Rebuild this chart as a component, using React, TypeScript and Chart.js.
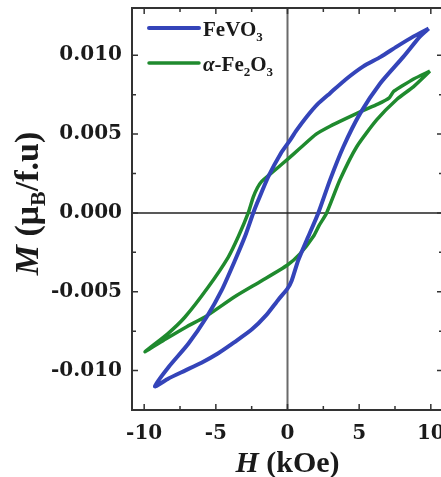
import React, { useEffect, useRef } from "react";
import { Chart, registerables } from "chart.js";

Chart.register(...registerables);

// FeVO3 loop: descending (upper) branch from +H max, then ascending (lower) branch from -H max
const feVO3H = [
  9.85, 8.8, 7.62, 6.5, 5.29, 4.1, 2.97, 2.1, 1.34, 0.6, 0.17, -0.45, -1.34, -2.04, -2.39, -2.97, -3.66, -4.59, -5.64, -6.92, -8.32, -9.25,
  -8.3, -7.15, -6.0, -4.83, -3.7, -2.5, -1.5, -0.64, 0, 0.29, 0.75, 1.45, 2.15, 2.97, 3.9, 5.06, 6.45, 8.08, 9.25, 9.85,
];
const feVO3M = [
  0.0117, 0.0112, 0.01055, 0.0099, 0.0093, 0.0085, 0.0076, 0.0069, 0.0061, 0.0052, 0.0046, 0.0038, 0.0023, 0.0008, 0, -0.0015, -0.003, -0.0049, -0.0066, -0.0083, -0.0098, -0.011,
  -0.0105, -0.0100, -0.0095, -0.0089, -0.0082, -0.0074, -0.0065, -0.0055, -0.0048, -0.0043, -0.003, -0.0015, 0, 0.0021, 0.0042, 0.0063, 0.0082, 0.0099, 0.0112, 0.0117,
];

// alpha-Fe2O3 loop
const fe2O3H = [
  9.94, 8.8, 7.9, 7.4, 7.1, 6.3, 5.29, 4.1, 2.97, 2.0, 0.87, 0, -0.64, -1.3, -1.8, -2.1, -2.39, -2.74, -3.43, -4.13, -5.53, -7.15, -8.4, -9.94,
  -8.5, -7.0, -5.76, -3.66, -1.8, 0, 0.87, 1.8, 2.2, 2.73, 3.66, 4.83, 6.22, 7.62, 8.78, 9.94,
];
const fe2O3M = [
  0.009, 0.0085, 0.008, 0.0077, 0.0073, 0.0069, 0.0065, 0.006, 0.0055, 0.005, 0.0041, 0.0034, 0.0029, 0.0024, 0.002, 0.0016, 0.001, 0, -0.0015, -0.0028, -0.0047, -0.0066, -0.0077, -0.0088,
  -0.008, -0.0072, -0.0066, -0.0053, -0.0043, -0.0033, -0.0026, -0.0015, -0.0008, 0, 0.0021, 0.0042, 0.0059, 0.0072, 0.008, 0.009,
];

const xTicks = [-10, -5, 0, 5, 10];
const xMinorTicks = [-7.5, -2.5, 2.5, 7.5];
const yTicks = [-0.01, -0.005, 0, 0.005, 0.01];
const yMinorTicks = [-0.0075, -0.0025, 0.0025, 0.0075];

const BLUE = "#3444b9";
const GREEN = "#1f8a2e";
const TICK_FONT = "DejaVu Serif";
const TITLE_FONT = "Liberation Serif";

type Part = { t: string; italic?: boolean; sub?: boolean };

function drawParts(ctx: CanvasRenderingContext2D, parts: Part[], x: number, y: number, size: number, subSize: number, subDrop: number, align: "left" | "center") {
  const fontFor = (p: Part) => `${p.italic ? "italic " : ""}bold ${p.sub ? subSize : size}px "${TITLE_FONT}"`;
  let total = 0;
  const widths = parts.map((p) => {
    ctx.font = fontFor(p);
    const w = ctx.measureText(p.t).width;
    total += w;
    return w;
  });
  let cx = align === "center" ? x - total / 2 : x;
  ctx.textBaseline = "alphabetic";
  ctx.textAlign = "left";
  parts.forEach((p, i) => {
    ctx.font = fontFor(p);
    ctx.fillText(p.t, cx, y + (p.sub ? subDrop : 0));
    cx += widths[i];
  });
}

const framePlugin = {
  id: "frame",
  beforeDatasetsDraw(chart: any) {
    const { ctx, chartArea, scales } = chart;
    const x0 = scales.x.getPixelForValue(0);
    const y0 = scales.y.getPixelForValue(0);
    ctx.save();
    ctx.strokeStyle = "#6a6a6a";
    ctx.lineWidth = 2;
    ctx.beginPath();
    ctx.moveTo(x0, chartArea.top);
    ctx.lineTo(x0, chartArea.bottom);
    ctx.stroke();
    ctx.strokeStyle = "#222";
    ctx.lineWidth = 1.5;
    ctx.beginPath();
    ctx.moveTo(chartArea.left, y0);
    ctx.lineTo(chartArea.right, y0);
    ctx.stroke();
    ctx.restore();
  },
  afterDraw(chart: any) {
    const { ctx, chartArea, scales } = chart;
    const { left, right, top, bottom } = chartArea;
    ctx.save();
    ctx.strokeStyle = "#333";
    ctx.lineWidth = 2;
    ctx.strokeRect(left, top, right - left, bottom - top);
    ctx.lineWidth = 1.5;
    const tick = (vals: number[], len: number) => {
      ctx.beginPath();
      vals.forEach((v) => {
        const px = scales.x.getPixelForValue(v);
        ctx.moveTo(px, bottom);
        ctx.lineTo(px, bottom - len);
        ctx.moveTo(px, top);
        ctx.lineTo(px, top + len);
      });
      ctx.stroke();
    };
    const ytick = (vals: number[], len: number) => {
      ctx.beginPath();
      vals.forEach((v) => {
        const py = scales.y.getPixelForValue(v);
        ctx.moveTo(left, py);
        ctx.lineTo(left + len, py);
        ctx.moveTo(right, py);
        ctx.lineTo(right - len, py);
      });
      ctx.stroke();
    };
    tick(xTicks, 6);
    tick(xMinorTicks, 4);
    ytick(yTicks, 6);
    ytick(yMinorTicks, 4);

    // legend
    ctx.lineCap = "round";
    ctx.lineWidth = 4;
    ctx.strokeStyle = BLUE;
    ctx.beginPath();
    ctx.moveTo(149, 28);
    ctx.lineTo(199, 28);
    ctx.stroke();
    ctx.strokeStyle = GREEN;
    ctx.lineWidth = 3.5;
    ctx.beginPath();
    ctx.moveTo(149, 63);
    ctx.lineTo(199, 63);
    ctx.stroke();
    ctx.fillStyle = "#1a1a1a";
    drawParts(ctx, [{ t: "FeVO" }, { t: "3", sub: true }], 203, 36, 21, 13, 5, "left");
    drawParts(ctx, [{ t: "α", italic: true }, { t: "-Fe" }, { t: "2", sub: true }, { t: "O" }, { t: "3", sub: true }], 203, 71, 21, 13, 5, "left");

    // axis titles
    const cx = scales.x.getPixelForValue(0);
    drawParts(ctx, [{ t: "H", italic: true }, { t: " (kOe)" }], cx, 472, 30, 20, 6, "center");
    ctx.translate(38, scales.y.getPixelForValue(0.0006));
    ctx.rotate(-Math.PI / 2);
    drawParts(ctx, [{ t: "M", italic: true }, { t: " (μ" }, { t: "B", sub: true }, { t: "/f.u)" }], 0, 0, 34, 22, 7, "center");
    ctx.restore();
  },
};

const zeroPad = (s: any) => {
  s.paddingTop = 0;
  s.paddingBottom = 0;
  s.paddingLeft = 0;
  s.paddingRight = 0;
};

export default function App() {
  const ref = useRef<HTMLCanvasElement | null>(null);
  useEffect(() => {
    if (!ref.current) return;
    const tickFont = { family: TICK_FONT, weight: "bold" as const, size: 20 };
    const chart = new Chart(ref.current, {
      type: "scatter",
      data: {
        datasets: [
          {
            label: "FeVO3",
            data: feVO3H.map((h, i) => ({ x: h, y: feVO3M[i] })),
            showLine: true,
            borderColor: BLUE,
            borderWidth: 4,
            pointRadius: 0,
            tension: 0.2,
            fill: false,
          },
          {
            label: "α-Fe2O3",
            data: fe2O3H.map((h, i) => ({ x: h, y: fe2O3M[i] })),
            showLine: true,
            borderColor: GREEN,
            borderWidth: 3.5,
            pointRadius: 0,
            tension: 0.2,
            fill: false,
          },
        ],
      },
      options: {
        animation: false,
        responsive: false,
        devicePixelRatio: 1,
        layout: { padding: { top: 8, left: 0, right: 0, bottom: 0 } },
        plugins: { legend: { display: false }, tooltip: { enabled: false } },
        scales: {
          x: {
            type: "linear",
            min: -10.85,
            max: 10.85,
            grid: { display: false, drawTicks: false },
            border: { display: false },
            afterBuildTicks: (s: any) => {
              s.ticks = xTicks.map((v) => ({ value: v }));
            },
            afterFit: (s: any) => {
              s.height = 67;
              zeroPad(s);
            },
            ticks: {
              autoSkip: false,
              maxRotation: 0,
              padding: 12,
              color: "#1a1a1a",
              font: tickFont,
              callback: (v: any) => String(v),
            },
          },
          y: {
            type: "linear",
            min: -0.0125,
            max: 0.013,
            grid: { display: false, drawTicks: false },
            border: { display: false },
            afterBuildTicks: (s: any) => {
              s.ticks = yTicks.map((v) => ({ value: v }));
            },
            afterFit: (s: any) => {
              s.width = 132;
              zeroPad(s);
            },
            ticks: {
              autoSkip: false,
              padding: 10,
              color: "#1a1a1a",
              font: tickFont,
              callback: (v: any) => Number(v).toFixed(3),
            },
          },
        },
      },
      plugins: [framePlugin],
    });
    return () => chart.destroy();
  }, []);
  return (
    <div style={{ position: "fixed", left: 0, top: 0, width: 441, height: 477, overflow: "hidden", background: "#fff" }}>
      <canvas ref={ref} width={443} height={477} style={{ display: "block" }} />
    </div>
  );
}
